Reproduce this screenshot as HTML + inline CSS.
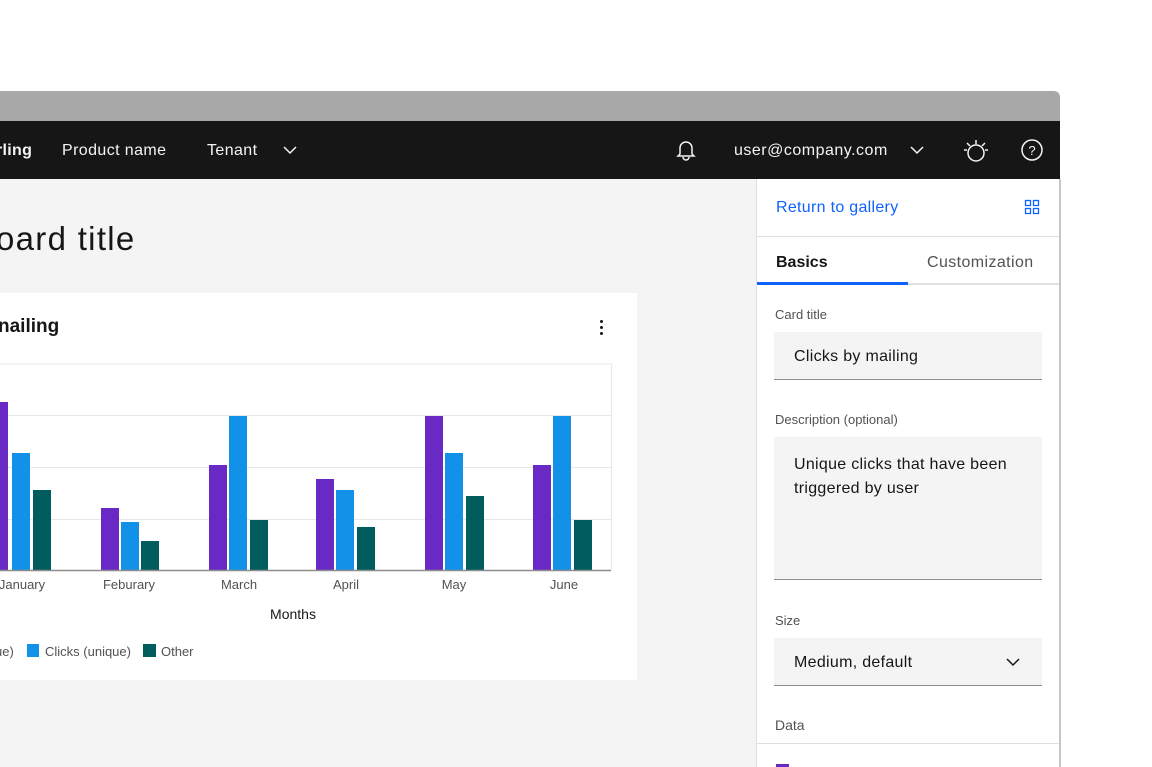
<!DOCTYPE html>
<html><head><style>
body{margin:0;width:1152px;height:767px;overflow:hidden;background:#fff;font-family:"Liberation Sans",sans-serif;position:relative}
.a{position:absolute}
</style></head><body>
<div class="a" style="left:0;top:91px;width:1060px;height:30px;background:#a8a8a8;border-top-right-radius:6px"></div>
<div class="a" style="left:0;top:121px;width:1060px;height:58px;background:#161616;color:#f4f4f4;font-size:16px">
 <span class="a" style="left:-4px;top:21px;font-weight:bold;letter-spacing:0.3px">rling</span>
 <span class="a" style="left:62px;top:21px;letter-spacing:0.4px">Product name</span>
 <span class="a" style="left:207px;top:21px;letter-spacing:0.4px">Tenant</span>
 <svg class="a" style="left:282px;top:23px" width="16" height="12"><path d="M2 3l6 6 6-6" stroke="#f4f4f4" fill="none" stroke-width="1.5"/></svg>
 <svg class="a" style="left:675px;top:17px" width="22" height="24"><path d="M5 16V10a6 6 0 0112 0v6l2 2H3z M8 19a3 3 0 006 0" stroke="#f4f4f4" fill="none" stroke-width="1.5"/></svg>
 <span class="a" style="left:734px;top:21px;letter-spacing:0.5px">user@company.com</span>
 <svg class="a" style="left:909px;top:23px" width="16" height="12"><path d="M2 3l6 6 6-6" stroke="#f4f4f4" fill="none" stroke-width="1.5"/></svg>
 <svg class="a" style="left:962px;top:17px" width="28" height="26"><circle cx="14" cy="15" r="8" stroke="#f4f4f4" fill="none" stroke-width="1.5"/><path d="M14 2v4M5 5l3 3M23 5l-3 3M2 12h3M26 12h-3" stroke="#f4f4f4" stroke-width="1.5"/></svg>
 <svg class="a" style="left:1020px;top:17px" width="24" height="24"><circle cx="12" cy="12" r="10" stroke="#f4f4f4" fill="none" stroke-width="1.5"/><text x="12" y="17" font-size="13" fill="#f4f4f4" text-anchor="middle" font-family="Liberation Sans">?</text></svg>
</div>
<div class="a" style="left:0;top:179px;width:756px;height:588px;background:#f4f4f4"></div>
<div class="a" style="left:-4px;top:220px;font-size:33px;letter-spacing:1.3px;color:#161616">oard title</div>
<div class="a" style="left:0;top:293px;width:637px;height:387px;background:#fff"></div>
<div class="a" style="left:-2px;top:316px;font-size:19px;font-weight:bold;color:#161616">nailing</div>
<div class="a" style="left:600px;top:320px;width:3px;height:3px;background:#161616;box-shadow:0 6px #161616,0 12px #161616;border-radius:2px"></div>
<svg class="a" style="left:0;top:0" width="640" height="680">
 <g stroke="#e8e8e8" stroke-width="1"><line x1="0" y1="364" x2="611" y2="364"/><line x1="0" y1="415.5" x2="611" y2="415.5"/><line x1="0" y1="467.5" x2="611" y2="467.5"/><line x1="0" y1="519.5" x2="611" y2="519.5"/><line x1="611.5" y1="364" x2="611.5" y2="570"/></g>
 <g fill="#6929c4"><rect x="-10" y="402" width="18" height="168"/><rect x="101" y="508" width="18" height="62"/><rect x="209" y="465" width="18" height="105"/><rect x="316" y="479" width="18" height="91"/><rect x="425" y="416" width="18" height="154"/><rect x="533" y="465" width="18" height="105"/></g>
 <g fill="#1192e8"><rect x="12" y="453" width="18" height="117"/><rect x="121" y="522" width="18" height="48"/><rect x="229" y="416" width="18" height="154"/><rect x="336" y="490" width="18" height="80"/><rect x="445" y="453" width="18" height="117"/><rect x="553" y="416" width="18" height="154"/></g>
 <g fill="#005d5d"><rect x="33" y="490" width="18" height="80"/><rect x="141" y="541" width="18" height="29"/><rect x="250" y="520" width="18" height="50"/><rect x="357" y="527" width="18" height="43"/><rect x="466" y="496" width="18" height="74"/><rect x="574" y="520" width="18" height="50"/></g>
 <line x1="0" y1="570.5" x2="611" y2="570.5" stroke="#8d8d8d" stroke-width="1.5"/>
 <g font-family="Liberation Sans" font-size="13" fill="#525252" text-anchor="middle"><text x="22" y="589">January</text><text x="129" y="589">Feburary</text><text x="239" y="589">March</text><text x="346" y="589">April</text><text x="454" y="589">May</text><text x="564" y="589">June</text></g>
 <text x="293" y="619" font-family="Liberation Sans" font-size="14" fill="#161616" text-anchor="middle">Months</text>
 <g font-family="Liberation Sans" font-size="13" fill="#525252"><text x="-5" y="656">ue)</text><rect x="27" y="644" width="12" height="13" fill="#1192e8"/><text x="45" y="656">Clicks (unique)</text><rect x="143" y="644" width="13" height="13" fill="#005d5d"/><text x="161" y="656">Other</text></g>
</svg>
<div class="a" style="left:756px;top:179px;width:302px;height:588px;background:#fff;border-left:1px solid #e0e0e0;border-right:2px solid #c6c6c6"></div>
<div class="a" style="left:776px;top:199px;font-size:16px;letter-spacing:0.3px;color:#0f62fe">Return to gallery</div>
<svg class="a" style="left:1024px;top:199px" width="16" height="16" fill="none" stroke="#0f62fe" stroke-width="1.3"><rect x="1.5" y="1.5" width="5" height="5"/><rect x="9.5" y="1.5" width="5" height="5"/><rect x="1.5" y="9.5" width="5" height="5"/><rect x="9.5" y="9.5" width="5" height="5"/></svg>
<div class="a" style="left:757px;top:236px;width:302px;height:1px;background:#e0e0e0"></div>
<div class="a" style="left:776px;top:254px;font-size:16px;font-weight:bold;color:#161616">Basics</div>
<div class="a" style="left:927px;top:254px;font-size:16px;letter-spacing:0.4px;color:#525252">Customization</div>
<div class="a" style="left:757px;top:283px;width:302px;height:2px;background:#e0e0e0"></div>
<div class="a" style="left:757px;top:282px;width:151px;height:3px;background:#0f62fe"></div>
<div class="a" style="left:775px;top:307px;font-size:13px;color:#525252">Card title</div>
<div class="a" style="left:774px;top:332px;width:268px;height:47px;background:#f4f4f4;border-bottom:1px solid #8d8d8d"></div>
<div class="a" style="left:794px;top:348px;font-size:16px;letter-spacing:0.3px;color:#161616">Clicks by mailing</div>
<div class="a" style="left:775px;top:412px;font-size:13px;color:#525252">Description (optional)</div>
<div class="a" style="left:774px;top:437px;width:268px;height:142px;background:#f4f4f4;border-bottom:1px solid #8d8d8d"></div>
<div class="a" style="left:794px;top:453px;font-size:16px;line-height:24px;letter-spacing:0.3px;color:#161616">Unique clicks that have been<br>triggered by user</div>
<div class="a" style="left:775px;top:613px;font-size:13px;color:#525252">Size</div>
<div class="a" style="left:774px;top:638px;width:268px;height:47px;background:#f4f4f4;border-bottom:1px solid #8d8d8d"></div>
<div class="a" style="left:794px;top:654px;font-size:16px;letter-spacing:0.3px;color:#161616">Medium, default</div>
<svg class="a" style="left:1005px;top:656px" width="16" height="12"><path d="M2 3l6 6 6-6" stroke="#161616" fill="none" stroke-width="1.5"/></svg>
<div class="a" style="left:775px;top:717px;font-size:14px;color:#525252">Data</div>
<div class="a" style="left:757px;top:743px;width:302px;height:1px;background:#e0e0e0"></div>
<div class="a" style="left:776px;top:764px;width:13px;height:3px;background:#6929c4"></div>
</body></html>
